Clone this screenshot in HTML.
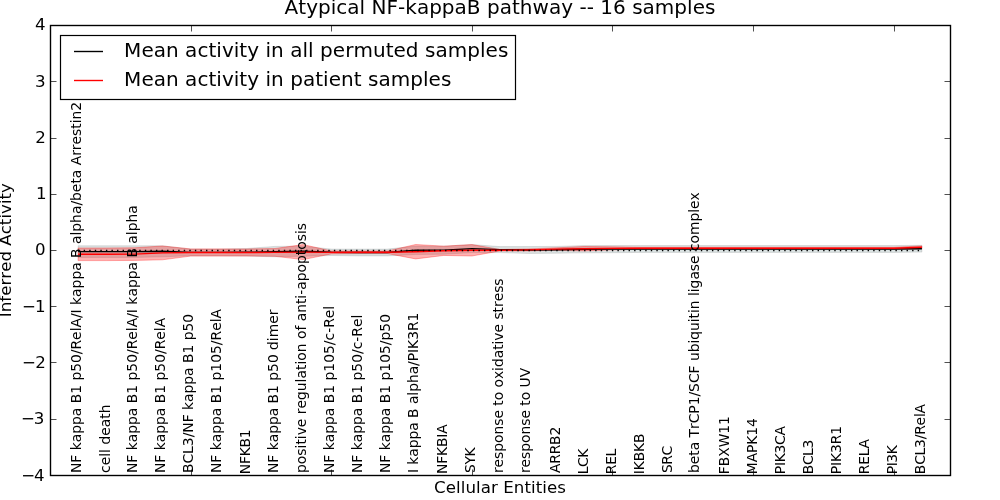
<!DOCTYPE html>
<html><head><meta charset="utf-8"><title>Atypical NF-kappaB pathway -- 16 samples</title><style>html,body{margin:0;padding:0;background:#fff;}svg{display:block;}text{font-family:'DejaVu Sans', 'Liberation Sans', sans-serif;fill:#000;font-kerning:none;}</style></head><body><svg width="1000" height="500" viewBox="0 0 1000 500"><rect x="0" y="0" width="1000" height="500" fill="#fff"/><polygon points="78.12,245.80 106.25,245.80 134.38,245.80 162.50,245.80 190.62,249.10 218.75,249.10 246.88,248.50 275.00,246.40 303.12,246.20 331.25,249.10 359.38,249.10 387.50,249.10 415.62,246.10 443.75,246.20 471.88,244.60 500.00,246.60 528.12,246.55 556.25,246.40 584.38,245.60 612.50,245.50 640.62,245.55 668.75,245.55 696.88,245.55 725.00,245.55 753.12,245.55 781.25,245.55 809.38,245.55 837.50,245.55 865.62,245.55 893.75,245.55 921.88,245.30 921.88,252.10 893.75,252.45 865.62,252.45 837.50,252.45 809.38,252.45 781.25,252.45 753.12,252.45 725.00,252.45 696.88,252.45 668.75,252.45 640.62,252.45 612.50,252.70 584.38,252.80 556.25,253.20 528.12,253.45 500.00,252.60 471.88,252.60 443.75,254.20 415.62,254.50 387.50,255.90 359.38,255.90 331.25,255.50 303.12,256.20 275.00,256.80 246.88,256.10 218.75,255.70 190.62,255.70 162.50,256.80 134.38,257.40 106.25,257.40 78.12,257.40" fill="#466e6e" fill-opacity="0.2" stroke="#808080" stroke-opacity="0.22" stroke-width="1"/><polygon points="78.12,248.00 106.25,248.00 134.38,247.80 162.50,246.00 190.62,248.90 218.75,248.90 246.88,249.00 275.00,248.50 303.12,244.60 331.25,250.90 359.38,251.00 387.50,251.00 415.62,244.50 443.75,246.15 471.88,244.60 500.00,249.45 528.12,248.90 556.25,247.85 584.38,246.50 612.50,246.85 640.62,247.30 668.75,247.30 696.88,247.30 725.00,247.30 753.12,247.30 781.25,247.30 809.38,247.30 837.50,247.30 865.62,247.30 893.75,247.30 921.88,245.90 921.88,248.50 893.75,249.30 865.62,249.30 837.50,249.30 809.38,249.30 781.25,249.30 753.12,249.30 725.00,249.30 696.88,249.30 668.75,249.30 640.62,249.30 612.50,249.85 584.38,250.90 556.25,250.35 528.12,250.90 500.00,250.95 471.88,256.00 443.75,255.45 415.62,258.90 387.50,253.60 359.38,253.60 331.25,253.90 303.12,259.60 275.00,256.30 246.88,256.00 218.75,256.10 190.62,256.10 162.50,259.80 134.38,260.40 106.25,260.60 78.12,260.60" fill="#ff0000" fill-opacity="0.3" stroke="#ff0000" stroke-opacity="0.3" stroke-width="1"/><polyline points="78.12,251.60 106.25,251.60 134.38,251.60 162.50,251.30 190.62,252.40 218.75,252.40 246.88,252.30 275.00,251.60 303.12,251.20 331.25,252.30 359.38,252.50 387.50,252.50 415.62,250.30 443.75,250.20 471.88,248.60 500.00,249.60 528.12,250.00 556.25,249.80 584.38,249.20 612.50,249.10 640.62,249.00 668.75,249.00 696.88,249.00 725.00,249.00 753.12,249.00 781.25,249.00 809.38,249.00 837.50,249.00 865.62,249.00 893.75,249.00 921.88,248.70" fill="none" stroke="#000" stroke-width="1.39"/><polyline points="78.12,254.30 106.25,254.30 134.38,254.10 162.50,252.90 190.62,252.50 218.75,252.50 246.88,252.50 275.00,252.40 303.12,252.10 331.25,252.40 359.38,252.30 387.50,252.30 415.62,251.70 443.75,250.80 471.88,250.30 500.00,250.20 528.12,249.90 556.25,249.10 584.38,248.70 612.50,248.35 640.62,248.30 668.75,248.30 696.88,248.30 725.00,248.30 753.12,248.30 781.25,248.30 809.38,248.30 837.50,248.30 865.62,248.30 893.75,248.30 921.88,247.20" fill="none" stroke="#f00" stroke-width="1.39"/><line x1="78.12" y1="250.5" x2="921.88" y2="250.5" stroke="#000" stroke-width="1.39" stroke-dasharray="1.39 4.17"/><text transform="translate(81.00,473.06) rotate(-90)" font-size="13.889" letter-spacing="-0.012">NF kappa B1 p50/RelA/I kappa B alpha/beta Arrestin2</text><text transform="translate(110.00,472.90) rotate(-90)" font-size="13.889">cell death</text><text transform="translate(137.00,473.06) rotate(-90)" font-size="13.889">NF kappa B1 p50/RelA/I kappa B alpha</text><text transform="translate(165.00,473.06) rotate(-90)" font-size="13.889">NF kappa B1 p50/RelA</text><text transform="translate(193.00,473.06) rotate(-90)" font-size="13.889" letter-spacing="-0.016">BCL3/NF kappa B1 p50</text><text transform="translate(221.00,473.06) rotate(-90)" font-size="13.889">NF kappa B1 p105/RelA</text><text transform="translate(250.00,474.16) rotate(-90)" font-size="13.889" letter-spacing="-0.250">NFKB1</text><text transform="translate(278.00,473.06) rotate(-90)" font-size="13.889" letter-spacing="-0.020">NF kappa B1 p50 dimer</text><text transform="translate(306.00,472.96) rotate(-90)" font-size="13.889" letter-spacing="-0.008">positive regulation of anti-apoptosis</text><text transform="translate(334.00,473.06) rotate(-90)" font-size="13.889">NF kappa B1 p105/c-Rel</text><text transform="translate(362.00,473.06) rotate(-90)" font-size="13.889">NF kappa B1 p50/c-Rel</text><text transform="translate(390.00,473.06) rotate(-90)" font-size="13.889">NF kappa B1 p105/p50</text><text transform="translate(418.00,473.06) rotate(-90)" font-size="13.889" letter-spacing="-0.052">I kappa B alpha/PIK3R1</text><text transform="translate(447.00,474.10) rotate(-90)" font-size="13.889" letter-spacing="-0.150">NFKBIA</text><text transform="translate(475.00,473.00) rotate(-90)" font-size="13.889" letter-spacing="-0.375">SYK</text><text transform="translate(503.00,473.10) rotate(-90)" font-size="13.889" letter-spacing="-0.041">response to oxidative stress</text><text transform="translate(530.00,473.10) rotate(-90)" font-size="13.889" letter-spacing="-0.031">response to UV</text><text transform="translate(560.00,472.91) rotate(-90)" font-size="13.889" letter-spacing="-0.250">ARRB2</text><text transform="translate(588.00,474.16) rotate(-90)" font-size="13.889" letter-spacing="-0.500">LCK</text><text transform="translate(616.00,474.16) rotate(-90)" font-size="13.889" letter-spacing="-0.350">REL</text><text transform="translate(644.00,474.16) rotate(-90)" font-size="13.889" letter-spacing="-0.175">IKBKB</text><text transform="translate(672.00,473.00) rotate(-90)" font-size="13.889" letter-spacing="-0.500">SRC</text><text transform="translate(699.00,472.96) rotate(-90)" font-size="13.889" letter-spacing="-0.032">beta TrCP1/SCF ubiquitin ligase complex</text><text transform="translate(729.00,474.16) rotate(-90)" font-size="13.889" letter-spacing="-0.060">FBXW11</text><text transform="translate(757.00,474.16) rotate(-90)" font-size="13.889" letter-spacing="-0.140">MAPK14</text><text transform="translate(785.00,474.16) rotate(-90)" font-size="13.889" letter-spacing="-0.280">PIK3CA</text><text transform="translate(813.00,474.16) rotate(-90)" font-size="13.889" letter-spacing="-0.467">BCL3</text><text transform="translate(841.00,474.16) rotate(-90)" font-size="13.889" letter-spacing="-0.140">PIK3R1</text><text transform="translate(869.00,474.16) rotate(-90)" font-size="13.889" letter-spacing="-0.200">RELA</text><text transform="translate(897.00,474.16) rotate(-90)" font-size="13.889" letter-spacing="-0.500">PI3K</text><text transform="translate(925.00,474.16) rotate(-90)" font-size="13.889" letter-spacing="-0.225">BCL3/RelA</text><rect x="50.5" y="25.5" width="900" height="450" fill="none" stroke="#000" stroke-width="1.39"/><line x1="50.5" y1="25.5" x2="50.5" y2="31.50" stroke="#000" stroke-width="0.69"/><line x1="50.5" y1="475.5" x2="50.5" y2="469.50" stroke="#000" stroke-width="0.69"/><line x1="191.5" y1="25.5" x2="191.5" y2="31.50" stroke="#000" stroke-width="0.69"/><line x1="191.5" y1="475.5" x2="191.5" y2="469.50" stroke="#000" stroke-width="0.69"/><line x1="331.5" y1="25.5" x2="331.5" y2="31.50" stroke="#000" stroke-width="0.69"/><line x1="331.5" y1="475.5" x2="331.5" y2="469.50" stroke="#000" stroke-width="0.69"/><line x1="472.5" y1="25.5" x2="472.5" y2="31.50" stroke="#000" stroke-width="0.69"/><line x1="472.5" y1="475.5" x2="472.5" y2="469.50" stroke="#000" stroke-width="0.69"/><line x1="612.5" y1="25.5" x2="612.5" y2="31.50" stroke="#000" stroke-width="0.69"/><line x1="612.5" y1="475.5" x2="612.5" y2="469.50" stroke="#000" stroke-width="0.69"/><line x1="753.5" y1="25.5" x2="753.5" y2="31.50" stroke="#000" stroke-width="0.69"/><line x1="753.5" y1="475.5" x2="753.5" y2="469.50" stroke="#000" stroke-width="0.69"/><line x1="894.5" y1="25.5" x2="894.5" y2="31.50" stroke="#000" stroke-width="0.69"/><line x1="894.5" y1="475.5" x2="894.5" y2="469.50" stroke="#000" stroke-width="0.69"/><line x1="50.5" y1="475.5" x2="56.50" y2="475.5" stroke="#000" stroke-width="0.69"/><line x1="950.5" y1="475.5" x2="944.50" y2="475.5" stroke="#000" stroke-width="0.69"/><text x="44.54" y="481.05" font-size="16.667" text-anchor="end">4</text><text x="21.13" y="481.05" font-size="16.667">−</text><line x1="50.5" y1="419.5" x2="56.50" y2="419.5" stroke="#000" stroke-width="0.69"/><line x1="950.5" y1="419.5" x2="944.50" y2="419.5" stroke="#000" stroke-width="0.69"/><text x="44.44" y="424.00" font-size="16.667" text-anchor="end">3</text><text x="20.98" y="424.00" font-size="16.667">−</text><line x1="50.5" y1="362.5" x2="56.50" y2="362.5" stroke="#000" stroke-width="0.69"/><line x1="950.5" y1="362.5" x2="944.50" y2="362.5" stroke="#000" stroke-width="0.69"/><text x="45.92" y="368.15" font-size="16.667" text-anchor="end">2</text><text x="21.98" y="368.15" font-size="16.667">−</text><line x1="50.5" y1="306.5" x2="56.50" y2="306.5" stroke="#000" stroke-width="0.69"/><line x1="950.5" y1="306.5" x2="944.50" y2="306.5" stroke="#000" stroke-width="0.69"/><text x="45.64" y="312.15" font-size="16.667" text-anchor="end">1</text><text x="21.93" y="312.15" font-size="16.667">−</text><line x1="50.5" y1="250.5" x2="56.50" y2="250.5" stroke="#000" stroke-width="0.69"/><line x1="950.5" y1="250.5" x2="944.50" y2="250.5" stroke="#000" stroke-width="0.69"/><text x="45.71" y="255.00" font-size="16.667" text-anchor="end">0</text><line x1="50.5" y1="194.5" x2="56.50" y2="194.5" stroke="#000" stroke-width="0.69"/><line x1="950.5" y1="194.5" x2="944.50" y2="194.5" stroke="#000" stroke-width="0.69"/><text x="46.54" y="199.00" font-size="16.667" text-anchor="end">1</text><line x1="50.5" y1="138.5" x2="56.50" y2="138.5" stroke="#000" stroke-width="0.69"/><line x1="950.5" y1="138.5" x2="944.50" y2="138.5" stroke="#000" stroke-width="0.69"/><text x="45.92" y="143.00" font-size="16.667" text-anchor="end">2</text><line x1="50.5" y1="81.5" x2="56.50" y2="81.5" stroke="#000" stroke-width="0.69"/><line x1="950.5" y1="81.5" x2="944.50" y2="81.5" stroke="#000" stroke-width="0.69"/><text x="45.64" y="87.00" font-size="16.667" text-anchor="end">3</text><line x1="50.5" y1="25.5" x2="56.50" y2="25.5" stroke="#000" stroke-width="0.69"/><line x1="950.5" y1="25.5" x2="944.50" y2="25.5" stroke="#000" stroke-width="0.69"/><text x="45.69" y="30.00" font-size="16.667" text-anchor="end">4</text><rect x="60.5" y="35.5" width="455" height="64" fill="#fff" stroke="#000" stroke-width="1.2"/><line x1="74" y1="51.5" x2="103" y2="51.5" stroke="#000" stroke-width="1.39"/><line x1="74" y1="80.5" x2="103" y2="80.5" stroke="#f00" stroke-width="1.39"/><text x="124.1" y="56.8" font-size="20" letter-spacing="0.035">Mean activity in all permuted samples</text><text x="124.1" y="85.8" font-size="20" letter-spacing="0.035">Mean activity in patient samples</text><text x="500" y="13.8" font-size="20" letter-spacing="0.02" text-anchor="middle">Atypical NF-kappaB pathway -- 16 samples</text><text x="500" y="492.7" font-size="16.667" letter-spacing="0.055" text-anchor="middle">Cellular Entities</text><text transform="translate(10.8,250.1) rotate(-90)" font-size="16.667" letter-spacing="0.01" text-anchor="middle">Inferred Activity</text></svg></body></html>
